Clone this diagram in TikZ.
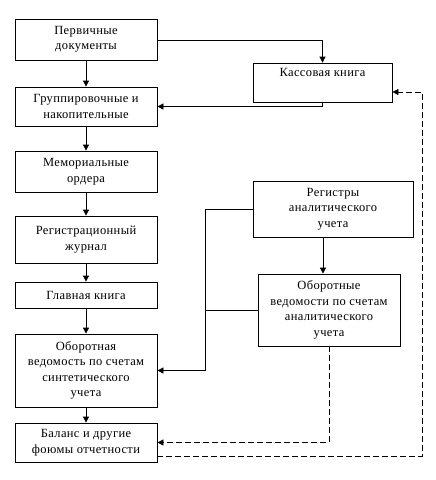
\documentclass[tikz,border=0pt]{standalone}
\usepackage{fontspec}
\setmainfont{Liberation Serif}[LetterSpace=3]
\usetikzlibrary{arrows.meta, calc, positioning}
\tikzset{
  box/.style    = {draw, line width=0.8pt, align=center, inner sep=1pt,
                   font=\fontsize{12.5}{15.5}\selectfont},
  flow/.style   = {-{Triangle[length=6pt,width=6pt]}, line width=0.8pt},
  plain/.style  = {line width=0.8pt},
  dashflow/.style = {flow, dash pattern=on 6pt off 3pt},
}

\begin{document}
\begin{tikzpicture}[x=1pt,y=-1pt]
  \useasboundingbox (0,0) rectangle (436,480);
  % left column
  \node[box, minimum width=142pt, minimum height=41pt] (prim) at (86,39.5) {Первичные\\документы};
  \node[box, minimum width=142pt, minimum height=39pt] (grup) at (86,106.5) {Группировочные и\\накопительные};
  \node[box, minimum width=142pt, minimum height=41pt] (memo) at (86,171.5) {Мемориальные\\ордера};
  \node[box, minimum width=142pt, minimum height=47pt] (jurn) at (86,239.5) {Регистрационный\\журнал};
  \node[box, minimum width=142pt, minimum height=26pt] (glav) at (86,295) {Главная книга};
  \node[box, minimum width=142pt, minimum height=73pt] (osin) at (86,370.5) {Оборотная\\ведомость по счетам\\синтетического\\учета};
  \node[box, minimum width=142pt, minimum height=39pt] (bal) at (86,442.5) {Баланс и другие\\фоюмы отчетности};
  % right column
  \node[box, minimum width=139pt, minimum height=39pt, text depth=20pt] (kass) at (322.5,82.5) {Кассовая книга};
  \node[box, minimum width=160pt, minimum height=56pt] (reg) at (333,209) {Регистры\\аналитического\\учета};
  \node[box, minimum width=142pt, minimum height=72pt] (oan) at (329,310) {Оборотные\\ведомости по счетам\\аналитического\\учета};
  \coordinate (bus) at (205,209);
  \coordinate (ret) at (422,92);

  \foreach \a/\b in {prim/grup, grup/memo, memo/jurn, jurn/glav, glav/osin, osin/bal}
    \draw[flow] (\a) -- (\b);
  \draw[flow] (prim.east |- 0,40) -| (kass.north);
  \draw[flow] (kass.south) |- (grup.east);
  \draw[flow] ($(reg.south)+(-10,0)$) -- ($(oan.north)+(-6,0)$);
  \draw[flow] (reg.west) -- (bus) |- (osin.east);
  \draw[plain] (oan.west) -- (oan.west -| bus);
  \draw[dashflow] (oan.south) |- (bal.east);
  \draw[dashflow] ($(bal.south east)+(0,-6)$) -| (ret) -- (ret -| kass.east);
\end{tikzpicture}
\end{document}
